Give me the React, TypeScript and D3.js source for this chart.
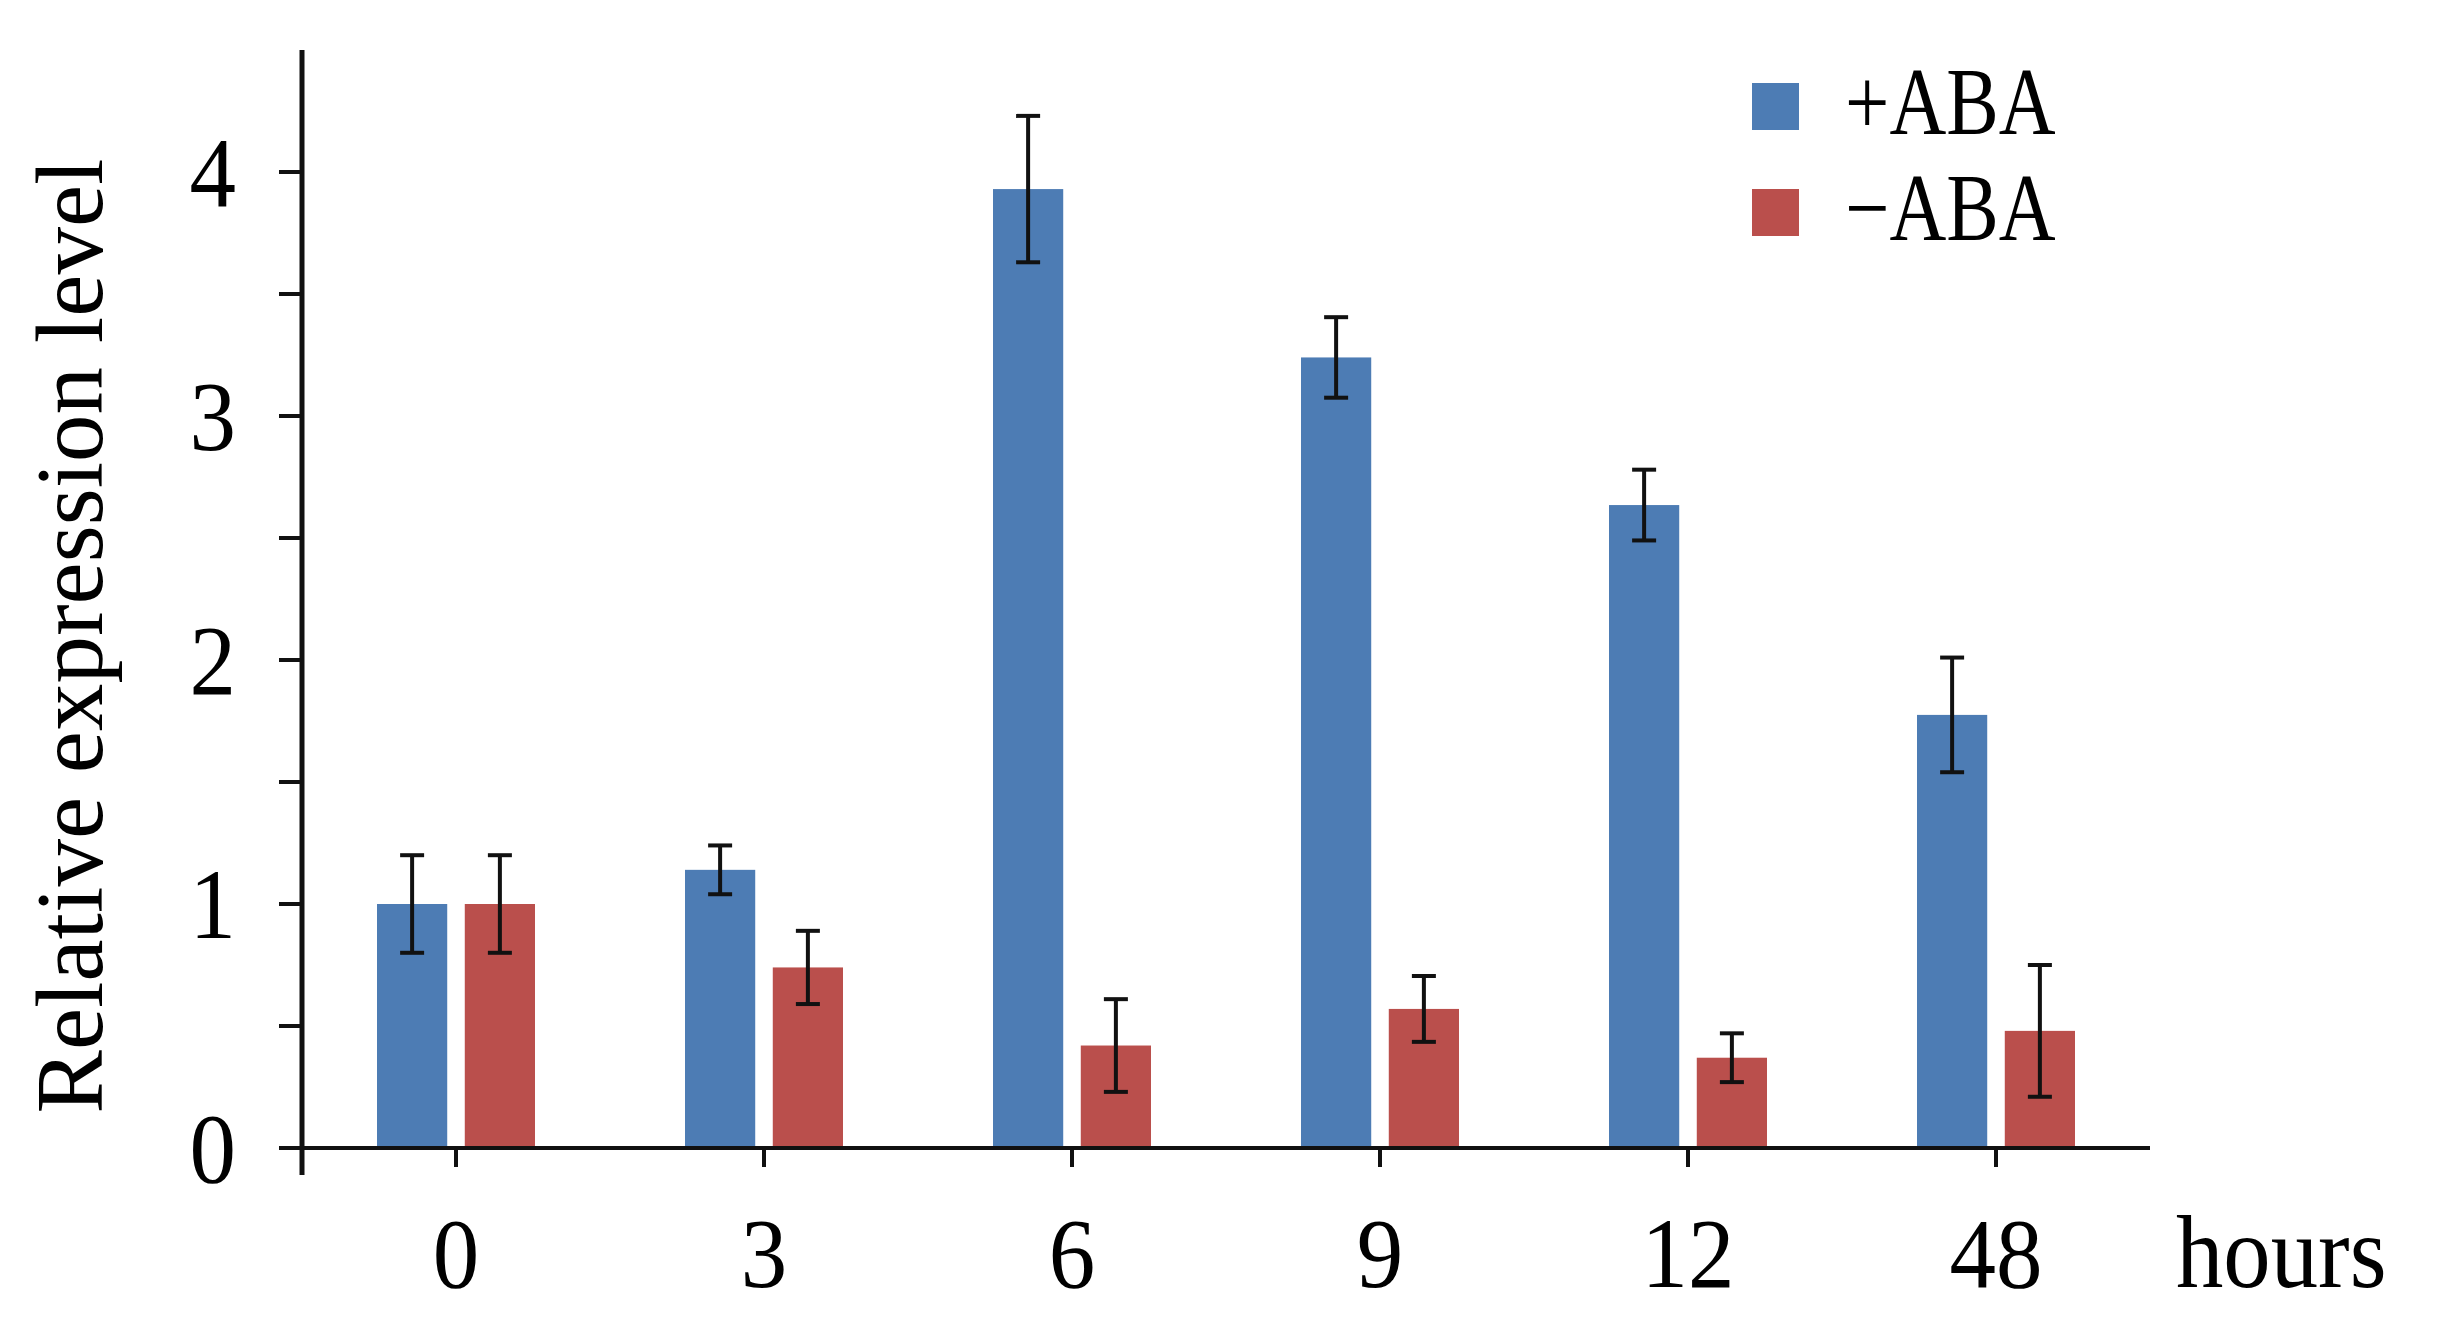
import { useRef, useEffect } from "react";
import * as d3 from "d3";

const hours = ["0", "3", "6", "9", "12", "48"];
const series = ["+ABA", "\u2212ABA"];
const plusABA = [1.0, 1.14, 3.93, 3.24, 2.635, 1.775];
const plusErr = [0.2, 0.1, 0.3, 0.165, 0.145, 0.235];
const minusABA = [1.0, 0.74, 0.42, 0.57, 0.37, 0.48];
const minusErr = [0.2, 0.15, 0.19, 0.135, 0.1, 0.27];
const yTicks = [0, 1, 2, 3, 4];
const yMinorTicks = [0.5, 1.5, 2.5, 3.5];
const colors = ["#4D7CB4", "#BA4F4C"];

export default function App() {
  const svgRef = useRef(null);

  useEffect(() => {
    document.body.style.margin = "0";
    const width = 2440;
    const height = 1339;
    const svg = d3.select(svgRef.current);
    svg.attr("width", width).attr("height", height).style("display", "block");
    svg.selectAll("*").remove();

    const font = "Liberation Serif";
    const left = 302, right = 2150, bottom = 1148;

    const x = d3.scaleBand().domain(hours).range([left, right]).padding(0);
    const sub = d3.scaleBand().domain(series).range([-79, 79]).paddingInner(0.2).paddingOuter(0);
    const y = d3.scaleLinear().domain([0, 4.5]).range([bottom, bottom - 4.5 * 244]);
    const mid = (h) => x(h) + x.bandwidth() / 2;

    const rows = hours.map((h, i) => [
      { h, s: series[0], v: plusABA[i], e: plusErr[i], c: colors[0] },
      { h, s: series[1], v: minusABA[i], e: minusErr[i], c: colors[1] },
    ]).flat();

    const g = svg.append("g");

    // bars
    g.selectAll("rect.bar")
      .data(rows)
      .enter()
      .append("rect")
      .attr("class", "bar")
      .attr("x", (d) => mid(d.h) + sub(d.s))
      .attr("width", sub.bandwidth())
      .attr("y", (d) => y(d.v))
      .attr("height", (d) => y(0) - y(d.v))
      .attr("fill", (d) => d.c);

    // error bars
    const cx = (d) => mid(d.h) + sub(d.s) + sub.bandwidth() / 2;
    const err = g.selectAll("g.err").data(rows).enter().append("g").attr("class", "err")
      .attr("stroke", "#111").attr("stroke-width", 4);
    err.append("line")
      .attr("x1", cx).attr("x2", cx)
      .attr("y1", (d) => y(d.v + d.e)).attr("y2", (d) => y(d.v - d.e));
    err.append("line")
      .attr("x1", (d) => cx(d) - 12).attr("x2", (d) => cx(d) + 12)
      .attr("y1", (d) => y(d.v + d.e)).attr("y2", (d) => y(d.v + d.e));
    err.append("line")
      .attr("x1", (d) => cx(d) - 12).attr("x2", (d) => cx(d) + 12)
      .attr("y1", (d) => y(d.v - d.e)).attr("y2", (d) => y(d.v - d.e));

    // axes
    g.append("line")
      .attr("x1", left).attr("x2", left)
      .attr("y1", y(4.5)).attr("y2", bottom + 27)
      .attr("stroke", "#111").attr("stroke-width", 5);
    g.append("line")
      .attr("x1", left - 19).attr("x2", right)
      .attr("y1", bottom).attr("y2", bottom)
      .attr("stroke", "#111").attr("stroke-width", 4);

    g.selectAll("line.ytick")
      .data(yTicks.concat(yMinorTicks))
      .enter()
      .append("line")
      .attr("x1", left - 23).attr("x2", left)
      .attr("y1", (d) => y(d)).attr("y2", (d) => y(d))
      .attr("stroke", "#111").attr("stroke-width", 4);

    g.selectAll("text.ylab")
      .data(yTicks)
      .enter()
      .append("text")
      .attr("transform", (d) => `translate(236,${y(d) + 34}) scale(0.93,1)`)
      .attr("text-anchor", "end")
      .attr("font-family", font)
      .attr("font-size", 100)
      .attr("fill", "#000")
      .text((d) => d);

    g.selectAll("line.xtick")
      .data(hours)
      .enter()
      .append("line")
      .attr("x1", mid).attr("x2", mid)
      .attr("y1", bottom).attr("y2", bottom + 19)
      .attr("stroke", "#111").attr("stroke-width", 4);

    g.selectAll("text.xlab")
      .data(hours)
      .enter()
      .append("text")
      .attr("transform", (d) => `translate(${mid(d)},1287) scale(0.93,1)`)
      .attr("text-anchor", "middle")
      .attr("font-family", font)
      .attr("font-size", 100)
      .attr("fill", "#000")
      .text((d) => d);

    g.append("text")
      .attr("transform", "translate(2176,1287) scale(0.92,1)")
      .attr("font-family", font).attr("font-size", 103).attr("fill", "#000")
      .text("hours");

    g.append("text")
      .attr("transform", "translate(102,636) rotate(-90)")
      .attr("text-anchor", "middle")
      .attr("font-family", font).attr("font-size", 95).attr("fill", "#000")
      .text("Relative expression level");

    // legend
    const legend = g.selectAll("g.legend")
      .data(series)
      .enter()
      .append("g")
      .attr("class", "legend")
      .attr("transform", (d, i) => `translate(1752,${83 + i * 106})`);
    legend.append("rect")
      .attr("width", 47).attr("height", 47)
      .attr("fill", (d, i) => colors[i]);
    legend.append("text")
      .attr("transform", "translate(93,51) scale(0.82,1)")
      .attr("font-family", font).attr("font-size", 96).attr("fill", "#000")
      .text((d) => d);
  }, []);

  return (
    <>
      <svg ref={svgRef}></svg>
    </>
  );
}
